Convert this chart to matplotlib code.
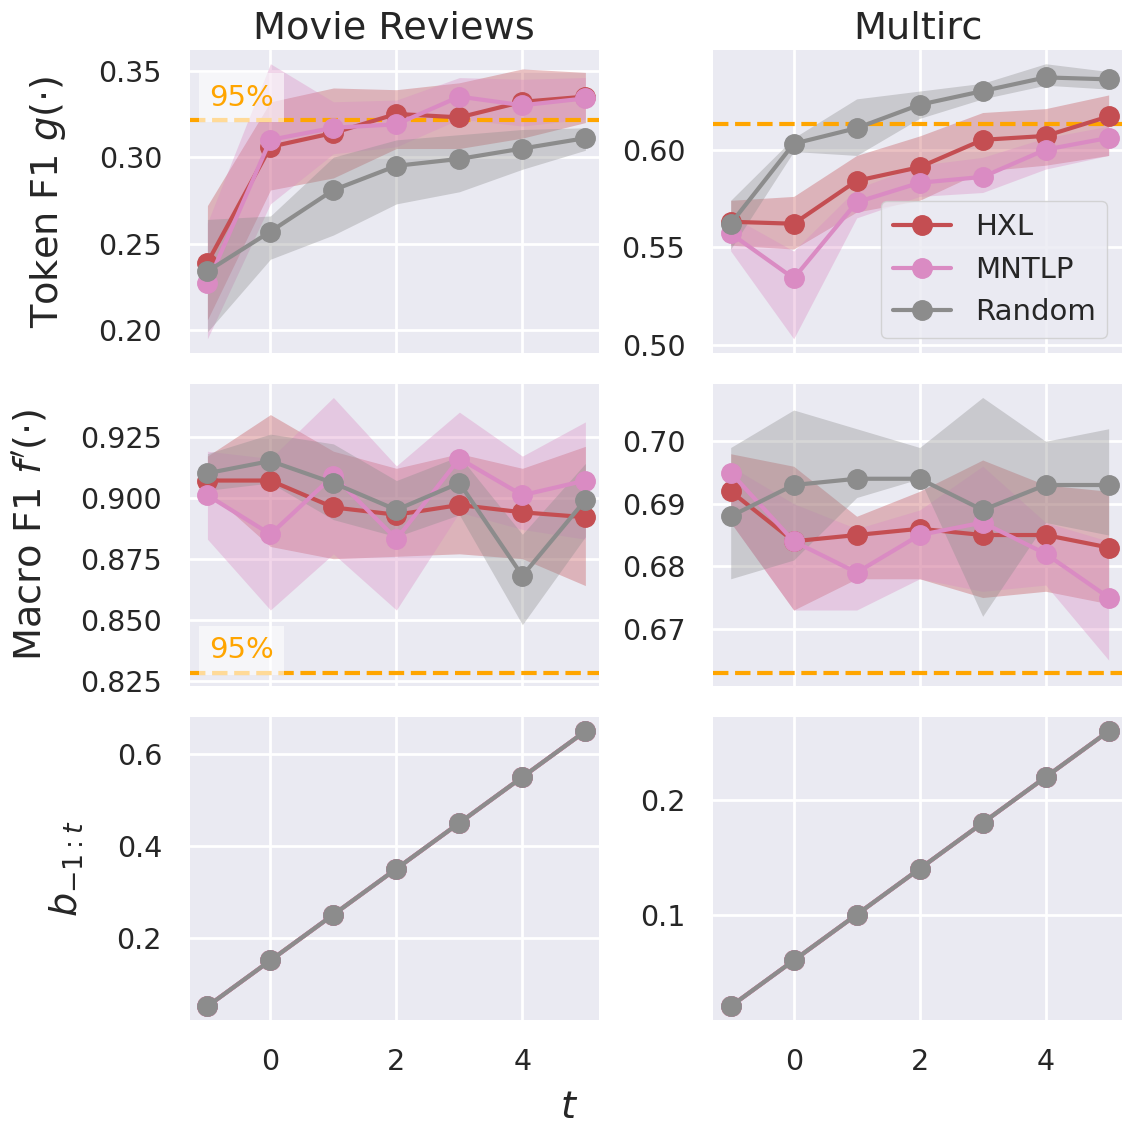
import numpy as np
import matplotlib
matplotlib.use("Agg")
import matplotlib.pyplot as plt
import seaborn as sns

sns.set_theme(style="darkgrid")
plt.rcParams["font.family"] = ["DejaVu Sans"]

steps = [-1, 0, 1, 2, 3, 4, 5]
methods = ["HXL", "MNTLP", "Random"]
colors = {"HXL": "#c44e52", "MNTLP": "#da8bc3", "Random": "#8c8c8c"}

# token F1, movie reviews
mr_tok = {
    "HXL": [0.239, 0.306, 0.314, 0.325, 0.323, 0.332, 0.335],
    "MNTLP": [0.227, 0.310, 0.317, 0.319, 0.335, 0.330, 0.334],
    "Random": [0.234, 0.257, 0.281, 0.295, 0.299, 0.305, 0.311],
}
mr_tok_lo = {
    "HXL": [0.206, 0.281, 0.288, 0.305, 0.305, 0.311, 0.320],
    "MNTLP": [0.195, 0.273, 0.302, 0.306, 0.322, 0.318, 0.322],
    "Random": [0.199, 0.241, 0.255, 0.273, 0.280, 0.293, 0.304],
}
mr_tok_hi = {
    "HXL": [0.272, 0.332, 0.340, 0.339, 0.343, 0.351, 0.349],
    "MNTLP": [0.262, 0.354, 0.332, 0.333, 0.346, 0.345, 0.346],
    "Random": [0.264, 0.266, 0.300, 0.310, 0.313, 0.316, 0.317],
}

# token F1, multirc
mc_tok = {
    "HXL": [0.563, 0.562, 0.584, 0.591, 0.605, 0.607, 0.617],
    "MNTLP": [0.557, 0.534, 0.573, 0.583, 0.586, 0.600, 0.606],
    "Random": [0.562, 0.603, 0.611, 0.623, 0.630, 0.637, 0.636],
}
mc_tok_lo = {
    "HXL": [0.551, 0.549, 0.568, 0.574, 0.589, 0.592, 0.597],
    "MNTLP": [0.548, 0.503, 0.565, 0.576, 0.578, 0.590, 0.597],
    "Random": [0.549, 0.599, 0.597, 0.616, 0.626, 0.633, 0.631],
}
mc_tok_hi = {
    "HXL": [0.574, 0.576, 0.597, 0.607, 0.619, 0.621, 0.628],
    "MNTLP": [0.566, 0.548, 0.580, 0.592, 0.596, 0.606, 0.612],
    "Random": [0.574, 0.606, 0.626, 0.630, 0.634, 0.644, 0.640],
}

# macro F1, movie reviews
mr_mac = {
    "HXL": [0.907, 0.907, 0.896, 0.893, 0.897, 0.894, 0.892],
    "MNTLP": [0.901, 0.885, 0.909, 0.883, 0.916, 0.901, 0.907],
    "Random": [0.910, 0.915, 0.906, 0.895, 0.906, 0.868, 0.899],
}
mr_mac_lo = {
    "HXL": [0.903, 0.880, 0.875, 0.876, 0.877, 0.875, 0.864],
    "MNTLP": [0.883, 0.854, 0.877, 0.854, 0.894, 0.887, 0.883],
    "Random": [0.903, 0.906, 0.891, 0.884, 0.893, 0.848, 0.884],
}
mr_mac_hi = {
    "HXL": [0.917, 0.934, 0.919, 0.912, 0.918, 0.912, 0.921],
    "MNTLP": [0.919, 0.916, 0.941, 0.913, 0.935, 0.917, 0.931],
    "Random": [0.918, 0.926, 0.922, 0.907, 0.917, 0.885, 0.914],
}

# macro F1, multirc
mc_mac = {
    "HXL": [0.692, 0.684, 0.685, 0.686, 0.685, 0.685, 0.683],
    "MNTLP": [0.695, 0.684, 0.679, 0.685, 0.687, 0.682, 0.675],
    "Random": [0.688, 0.693, 0.694, 0.694, 0.689, 0.693, 0.693],
}
mc_mac_lo = {
    "HXL": [0.687, 0.673, 0.678, 0.678, 0.675, 0.676, 0.674],
    "MNTLP": [0.687, 0.673, 0.673, 0.678, 0.676, 0.677, 0.665],
    "Random": [0.678, 0.681, 0.691, 0.694, 0.672, 0.687, 0.685],
}
mc_mac_hi = {
    "HXL": [0.698, 0.696, 0.688, 0.692, 0.697, 0.693, 0.692],
    "MNTLP": [0.696, 0.690, 0.686, 0.689, 0.696, 0.687, 0.684],
    "Random": [0.699, 0.705, 0.702, 0.699, 0.707, 0.700, 0.702],
}

# annotation budget, same for every method
mr_budget = [0.05, 0.15, 0.25, 0.35, 0.45, 0.55, 0.65]
mc_budget = [0.02, 0.06, 0.10, 0.14, 0.18, 0.22, 0.26]

# 95% of full-data performance
mr_tok_thr = 0.3216
mc_tok_thr = 0.6131
mr_mac_thr = 0.8284
mc_mac_thr = 0.6630

tick_fs = 20.5
label_fs = 27.5

fig, axes = plt.subplots(3, 2, figsize=(11.23, 11.26), dpi=100, sharex=True)
fig.subplots_adjust(left=0.169, right=0.999, top=0.9556, bottom=0.0941,
                    wspace=0.28, hspace=0.103)


def draw(ax, mean, lo, hi, thr=None, label95=False):
    if thr is not None:
        ax.axhline(thr, color="orange", ls="--", lw=3, zorder=1.5)
    for m in methods:
        ax.fill_between(steps, lo[m], hi[m], color=colors[m], alpha=0.35, lw=0)
        ax.plot(steps, mean[m], color=colors[m], lw=3, marker="o", ms=14, label=m)
    if label95:
        ax.annotate("95%", xy=(0.127, thr), xycoords=("axes fraction", "data"),
                    xytext=(0, 16), textcoords="offset points",
                    ha="center", va="center", color="orange", fontsize=21,
                    bbox=dict(boxstyle="square,pad=0.35", facecolor="white",
                              alpha=0.6, edgecolor="none"), zorder=5)


draw(axes[0, 0], mr_tok, mr_tok_lo, mr_tok_hi, mr_tok_thr, True)
draw(axes[0, 1], mc_tok, mc_tok_lo, mc_tok_hi, mc_tok_thr)
draw(axes[1, 0], mr_mac, mr_mac_lo, mr_mac_hi, mr_mac_thr, True)
draw(axes[1, 1], mc_mac, mc_mac_lo, mc_mac_hi, mc_mac_thr)

for ax, b in [(axes[2, 0], mr_budget), (axes[2, 1], mc_budget)]:
    for m in methods:
        ax.plot(steps, b, color=colors[m], lw=3, marker="o", ms=14)

axes[0, 0].set_yticks([0.20, 0.25, 0.30, 0.35])
axes[0, 1].set_yticks([0.50, 0.55, 0.60])
axes[1, 0].set_yticks([0.825, 0.850, 0.875, 0.900, 0.925])
axes[1, 1].set_yticks([0.67, 0.68, 0.69, 0.70])
axes[2, 0].set_yticks([0.2, 0.4, 0.6])
axes[2, 1].set_yticks([0.1, 0.2])

for ax in axes.flat:
    ax.set_xticks([0, 2, 4])
    ax.set_xlim(-1.28, 5.21)
    ax.tick_params(labelsize=tick_fs, colors="#262626", length=0, pad=20)
    for s in ax.spines.values():
        s.set_visible(False)
    ax.grid(color="white", lw=2)

axes[0, 0].set_title("Movie Reviews", fontsize=label_fs, pad=8)
axes[0, 1].set_title("Multirc", fontsize=label_fs, pad=8)
axes[0, 0].set_ylabel(r"Token F1 $g(\cdot)$", fontsize=label_fs, labelpad=22)
axes[1, 0].set_ylabel(r"Macro F1 $f'(\cdot)$", fontsize=label_fs, labelpad=22)
axes[2, 0].set_ylabel(r"$b_{-1:t}$", fontsize=label_fs, labelpad=22)
fig.text(0.507, 0.0, r"$t$", fontsize=label_fs, ha="center", va="bottom")

leg = axes[0, 1].legend(loc="lower right", fontsize=21, frameon=True,
                        borderpad=0.4, handlelength=2.0)
leg.get_frame().set_facecolor("#eaeaf2")
leg.get_frame().set_edgecolor("#cccccc")

plt.savefig("out.png", dpi=100)
